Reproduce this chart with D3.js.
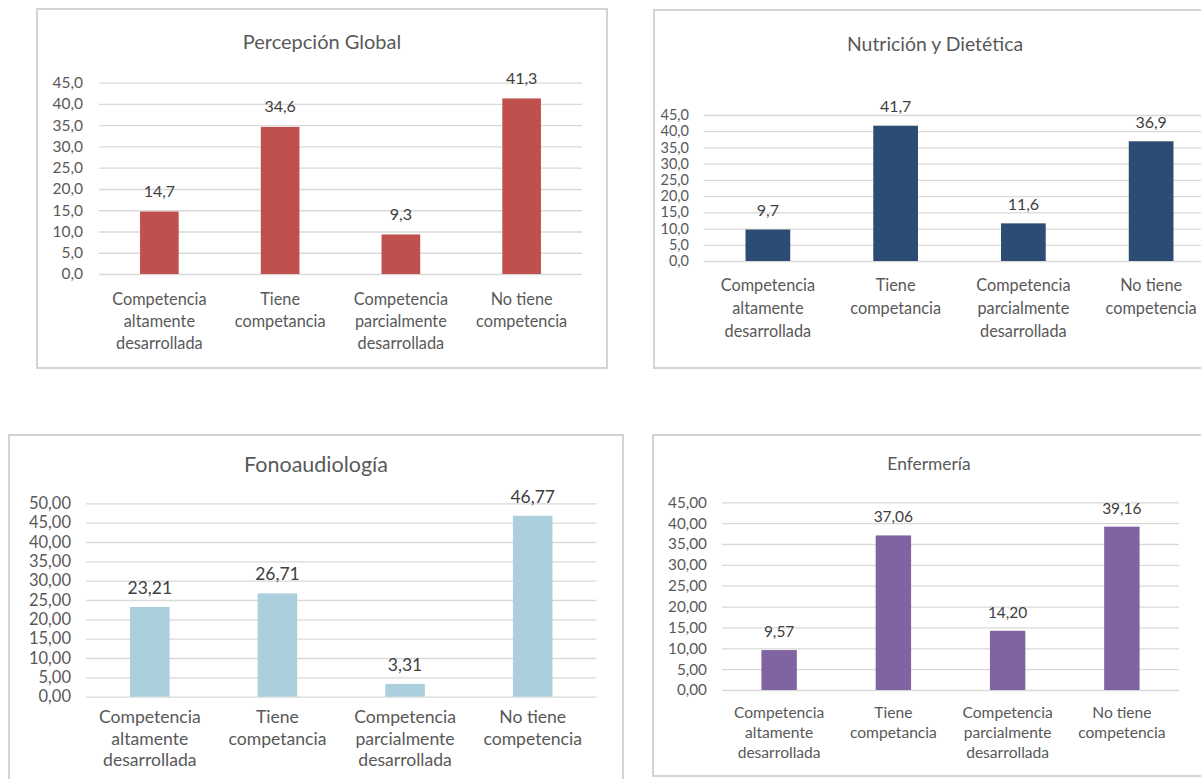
<!DOCTYPE html>
<html lang="es">
<head>
<meta charset="UTF-8">
<title>Competencias por carrera</title>
<script src="https://d3js.org/d3.v7.min.js"></script>
<style>
  html, body { margin: 0; padding: 0; background: #fff; }
  svg { display: block; font-family: Lato, "Open Sans", sans-serif; }
</style>
</head>
<body>
<div id="chart"></div>
<script>
// categorías (con saltos de línea como en el original)
const categorias = [
  ["Competencia", "altamente", "desarrollada"],
  ["Tiene", "competancia"],
  ["Competencia", "parcialmente", "desarrollada"],
  ["No tiene", "competencia"]
];

// valores de cada gráfico
const percepcionGlobal = [14.7, 34.6, 9.3, 41.3];
const nutricionDietetica = [9.7, 41.7, 11.6, 36.9];
const fonoaudiologia = [23.21, 26.71, 3.31, 46.77];
const enfermeria = [9.57, 37.06, 14.20, 39.16];

// marcas del eje y
const ticks45 = [0, 5, 10, 15, 20, 25, 30, 35, 40, 45];
const ticks50 = [0, 5, 10, 15, 20, 25, 30, 35, 40, 45, 50];

const es = d3.formatLocale({ decimal: ",", thousands: ".", grouping: [3], currency: ["", "€"] });

const svg = d3.select("#chart")
  .append("svg")
  .attr("width", 1201)
  .attr("height", 779);

const textColor = "#595959";
const gridColor = "#d9d9d9";

function panel(cfg) {
  const g = svg.append("g");

  // marco
  g.append("rect")
    .attr("x", cfg.box[0]).attr("y", cfg.box[1])
    .attr("width", cfg.box[2]).attr("height", cfg.box[3])
    .attr("fill", "#fff")
    .attr("stroke", "#d4d4d4")
    .attr("stroke-width", 2);

  // título
  g.append("text")
    .attr("x", cfg.titleX).attr("y", cfg.titleY)
    .attr("dy", "0.35em")
    .attr("text-anchor", "middle")
    .attr("fill", textColor)
    .style("font-size", cfg.titleSize + "px")
    .text(cfg.title);

  const x = d3.scaleBand()
    .domain(d3.range(cfg.values.length))
    .range([cfg.x0, cfg.x1])
    .paddingInner(cfg.pad)
    .paddingOuter(cfg.pad / 2);

  const y = d3.scaleLinear()
    .domain([0, d3.max(cfg.ticks)])
    .range([cfg.y0, cfg.yTop]);

  // eje y + cuadrícula
  const yAxis = g.append("g")
    .attr("transform", `translate(${cfg.x0},0)`)
    .call(d3.axisLeft(y)
      .tickValues(cfg.ticks)
      .tickSize(-(cfg.x1 - cfg.x0))
      .tickPadding(cfg.tickPad)
      .tickFormat(es.format(cfg.fmt)));
  yAxis.select(".domain").remove();
  yAxis.selectAll("line").attr("stroke", gridColor).attr("stroke-width", 1.3);
  yAxis.selectAll("text")
    .attr("fill", textColor)
    .style("font-family", "Lato, sans-serif")
    .style("font-size", cfg.tickSize + "px");

  // barras
  g.selectAll(".bar")
    .data(cfg.values)
    .enter()
    .append("rect")
    .attr("x", (d, i) => x(i))
    .attr("y", d => y(d))
    .attr("width", x.bandwidth())
    .attr("height", d => cfg.y0 - y(d))
    .attr("fill", cfg.color);

  // etiquetas de datos
  g.selectAll(".lbl")
    .data(cfg.values)
    .enter()
    .append("text")
    .attr("x", (d, i) => x(i) + x.bandwidth() / 2)
    .attr("y", d => y(d) - cfg.labelGap)
    .attr("text-anchor", "middle")
    .attr("fill", "#404040")
    .style("font-size", cfg.labelSize + "px")
    .text(d => es.format(cfg.fmt)(d));

  // eje x con etiquetas en varias líneas
  const xAxis = g.append("g")
    .attr("transform", `translate(0,${cfg.y0})`)
    .call(d3.axisBottom(x).tickSize(0).tickFormat(""));
  xAxis.select(".domain").remove();
  xAxis.selectAll(".tick text").remove();
  xAxis.selectAll(".tick").each(function (i) {
    const t = d3.select(this).append("text")
      .attr("text-anchor", "middle")
      .attr("fill", textColor)
      .style("font-family", "Lato, sans-serif")
      .style("font-size", cfg.catSize + "px");
    categorias[i].forEach((line, k) => {
      t.append("tspan")
        .attr("x", 0)
        .attr("y", cfg.catOffset + k * cfg.catStep)
        .attr("dy", "0.35em")
        .text(line);
    });
  });
}

panel({
  title: "Percepción Global", values: percepcionGlobal, color: "#c0504d",
  box: [37, 9, 570, 359], titleX: 322, titleY: 42, titleSize: 20,
  x0: 99, x1: 582, y0: 274, yTop: 82.7, pad: 0.68,
  ticks: ticks45, fmt: ".1f", tickSize: 15.5, tickPad: 16,
  labelSize: 16, labelGap: 14.5, catSize: 16.3, catOffset: 25, catStep: 22
});

panel({
  title: "Nutrición y Dietética", values: nutricionDietetica, color: "#2c4c74",
  box: [654, 10, 580, 358], titleX: 935, titleY: 44, titleSize: 19.4,
  x0: 704, x1: 1215, y0: 261, yTop: 115, pad: 0.65,
  ticks: ticks45, fmt: ".1f", tickSize: 14.5, tickPad: 15,
  labelSize: 16, labelGap: 13.5, catSize: 16.3, catOffset: 24, catStep: 23
});

panel({
  title: "Fonoaudiología", values: fonoaudiologia, color: "#abcfdc",
  box: [9, 435, 614, 380], titleX: 316, titleY: 464, titleSize: 21.5,
  x0: 86, x1: 596.5, y0: 696.7, yTop: 503.3, pad: 0.69,
  ticks: ticks50, fmt: ".2f", tickSize: 16.5, tickPad: 15,
  labelSize: 17.5, labelGap: 13, catSize: 17.6, catOffset: 20.5, catStep: 21.5
});

panel({
  title: "Enfermería", values: enfermeria, color: "#8064a2",
  box: [653, 435, 560, 341], titleX: 929, titleY: 464, titleSize: 17.4,
  x0: 722, x1: 1179, y0: 690, yTop: 502.3, pad: 0.69,
  ticks: ticks45, fmt: ".2f", tickSize: 15.3, tickPad: 15,
  labelSize: 15.5, labelGap: 13, catSize: 15.6, catOffset: 23, catStep: 20
});
</script>
</body>
</html>
